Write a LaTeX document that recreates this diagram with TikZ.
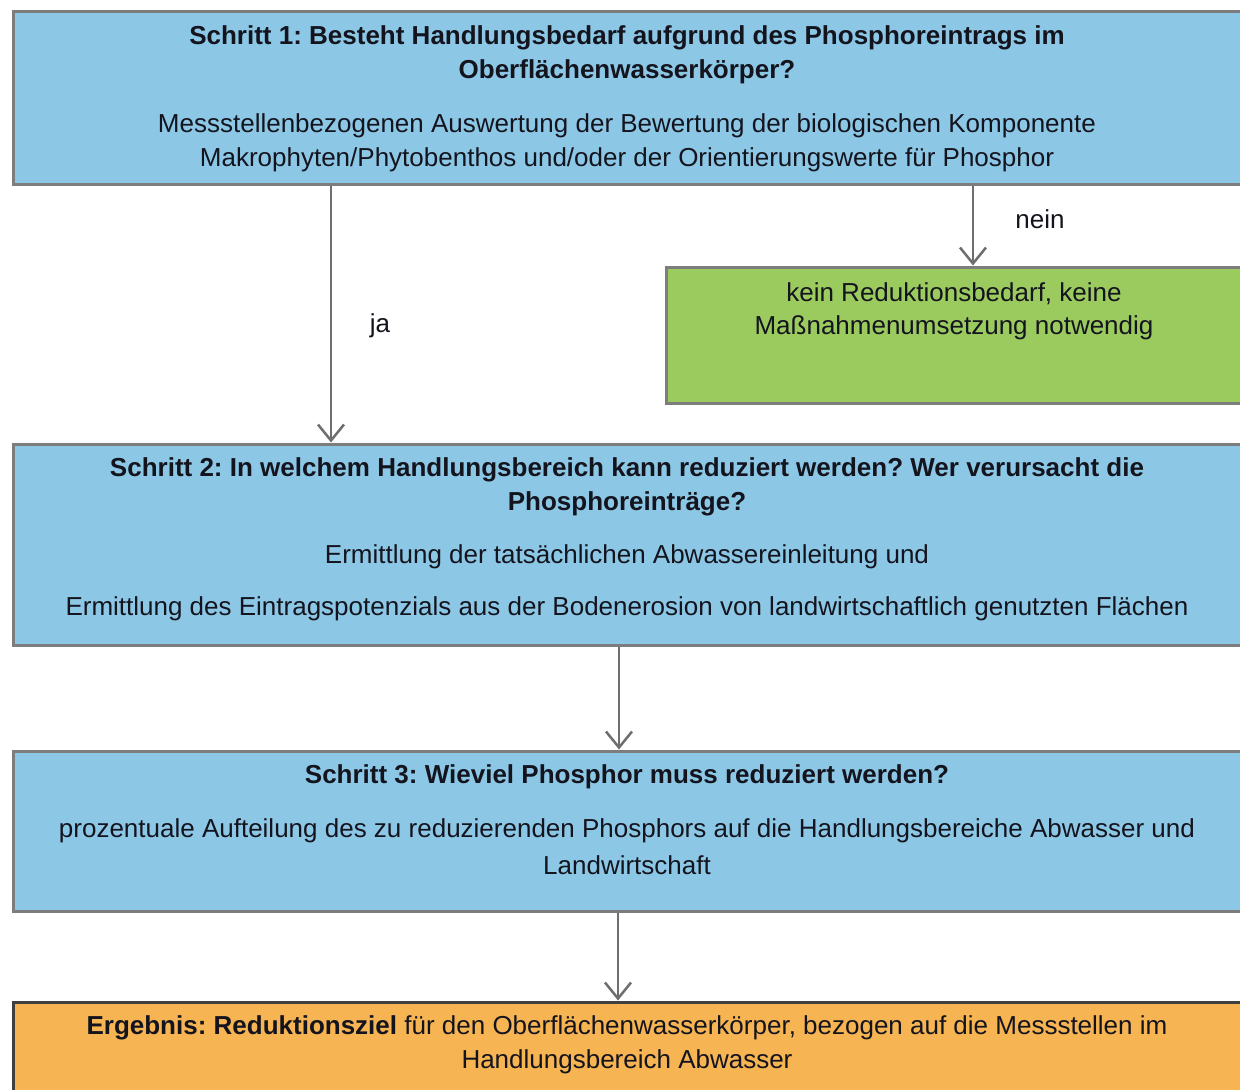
\documentclass[tikz,border=0pt]{standalone}
\usepackage{fontspec}
\setmainfont{Liberation Sans}
\usetikzlibrary{arrows.meta}
\definecolor{bluefill}{RGB}{140,200,230}
\definecolor{greenfill}{RGB}{155,203,95}
\definecolor{orangefill}{RGB}{246,180,82}
\definecolor{boxline}{RGB}{125,125,125}
\definecolor{arrline}{RGB}{110,110,110}
\definecolor{txt}{RGB}{20,20,30}
\tikzset{
  box/.style={draw=boxline, line width=3pt, anchor=north west, inner sep=0pt},
  txtline/.style={inner sep=0pt, text=txt, font=\fontsize{26}{35}\selectfont, align=center},
  arr/.style={draw=arrline, line width=2.5pt, -{Straight Barb[length=16pt,width=26pt,line width=2.5pt]}},
  lbl/.style={inner sep=0pt, text=txt, font=\fontsize{26}{35}\selectfont}
}
\begin{document}
\frenchspacing
\begin{tikzpicture}[x=1pt,y=-1pt]
\useasboundingbox (0,0) rectangle (1240,1090);
\clip (0,0) rectangle (1240,1090);
% boxes
\node[box, fill=bluefill, minimum width=1234pt, minimum height=173pt] (s1) at (11.5,9.5) {};
\node[box, fill=greenfill, minimum width=582pt, minimum height=136pt] (g) at (664.5,265.5) {};
\node[box, fill=bluefill, minimum width=1234pt, minimum height=201pt] (s2) at (11.5,442.5) {};
\node[box, fill=bluefill, minimum width=1234pt, minimum height=160pt] (s3) at (11.5,749.5) {};
\node[box, draw=black!75, fill=orangefill, minimum width=1234pt, minimum height=120pt] (s4) at (11.5,1000.5) {};
% texts box 1
\node[txtline] (t1a) at (627,38) {\bfseries Schritt 1: Besteht Handlungsbedarf aufgrund des Phosphoreintrags im};
\node[txtline] (t1b) at (627,72) {\bfseries Oberflächenwasserkörper?};
\node[txtline] (t1c) at (627,126) {Messstellenbezogenen Auswertung der Bewertung der biologischen Komponente};
\node[txtline] (t1d) at (627,160) {Makrophyten/Phytobenthos und/oder der Orientierungswerte für Phosphor};
% green
\node[txtline] (tg1) at (954,294) {kein Reduktionsbedarf, keine};
\node[txtline] (tg2) at (954,328) {Maßnahmenumsetzung notwendig};
% box 2
\node[txtline] (t2a) at (627,470) {\bfseries Schritt 2: In welchem Handlungsbereich kann reduziert werden? Wer verursacht die};
\node[txtline] (t2b) at (627,504) {\bfseries Phosphoreinträge?};
\node[txtline] (t2c) at (627,557) {Ermittlung der tatsächlichen Abwassereinleitung und};
\node[txtline] (t2d) at (627,609) {Ermittlung des Eintragspotenzials aus der Bodenerosion von landwirtschaftlich genutzten Flächen};
% box 3
\node[txtline] (t3a) at (627,777) {\bfseries Schritt 3: Wieviel Phosphor muss reduziert werden?};
\node[txtline] (t3b) at (627,831) {prozentuale Aufteilung des zu reduzierenden Phosphors auf die Handlungsbereiche Abwasser und};
\node[txtline] (t3c) at (627,865) {Landwirtschaft};
% box 4
\node[txtline] (t4a) at (627,1028) {\bfseries Ergebnis: Reduktionsziel \mdseries für den Oberflächenwasserkörper, bezogen auf die Messstellen im};
\node[txtline] (t4b) at (627,1062) {Handlungsbereich Abwasser};
% connectors
\coordinate (xja) at (331,0);
\coordinate (xnein) at (973,0);
\coordinate (x2) at (619,0);
\coordinate (x3) at (618,0);
\draw[arr] (xja |- s1.south) -- (xja |- s2.north);
\draw[arr] (xnein |- s1.south) -- (xnein |- g.north);
\draw[arr] (x2 |- s2.south) -- (x2 |- s3.north);
\draw[arr] (x3 |- s3.south) -- (x3 |- s4.north);
\node[lbl] (ja) at (380,326) {ja};
\node[lbl] (nein) at (1040,219) {nein};
\end{tikzpicture}
\end{document}
